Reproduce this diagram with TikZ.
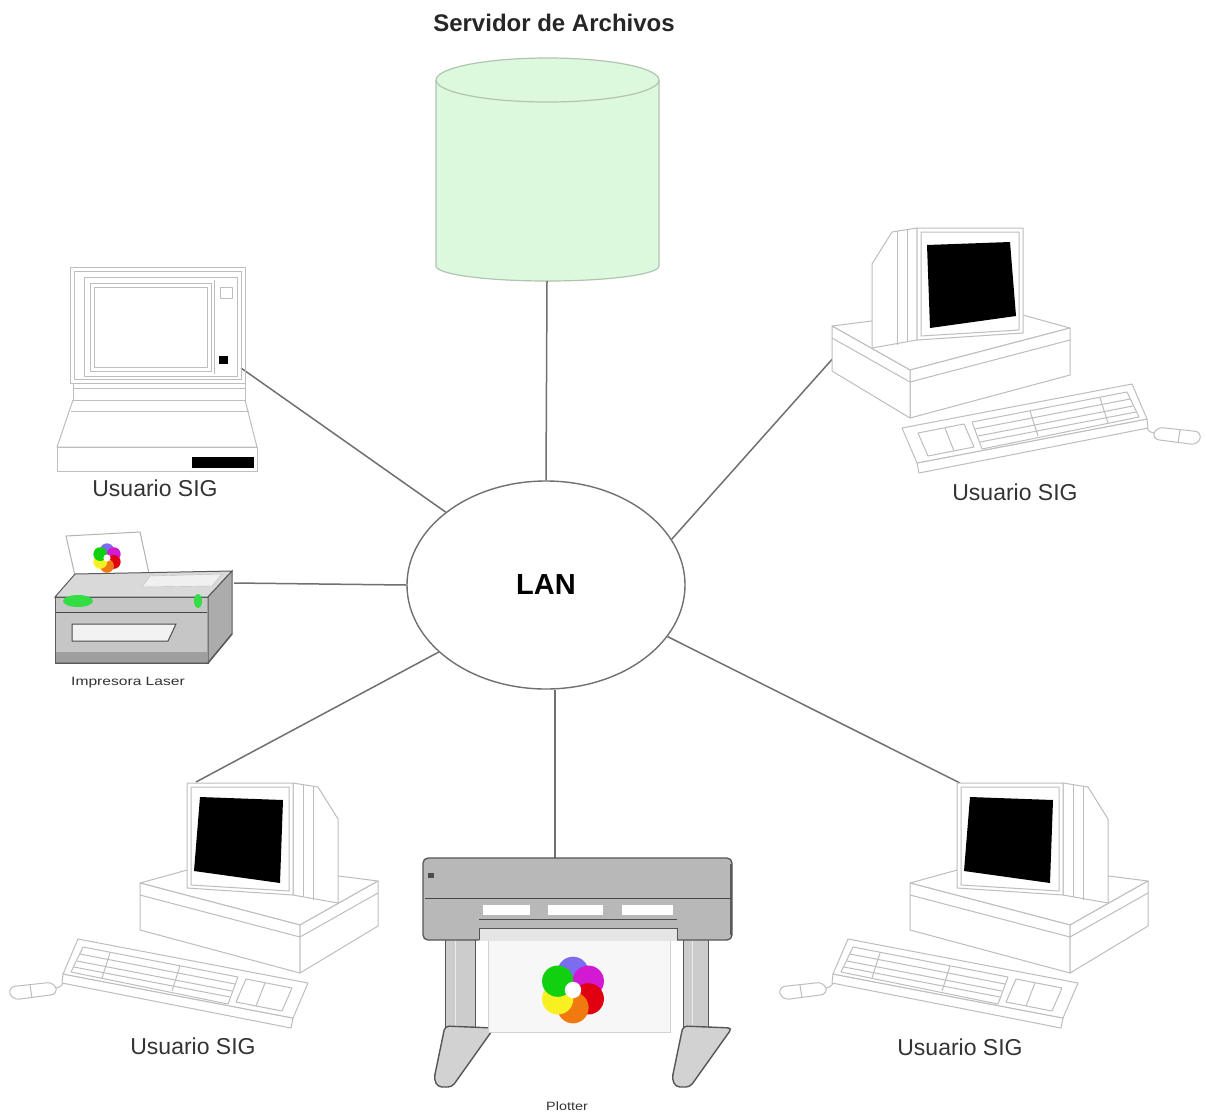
\documentclass[tikz,border=0pt]{standalone}
\usepackage{fontspec}
\setmainfont{Liberation Sans}
\usetikzlibrary{shapes.geometric}

\definecolor{linkgray}{HTML}{707070}
\definecolor{pcgray}{HTML}{BDBDBD}
\definecolor{srvfill}{HTML}{DDF9DD}
\definecolor{srvline}{HTML}{AFC5AF}
\definecolor{txtgray}{HTML}{333333}
\definecolor{plbody}{HTML}{B8B8B8}
\definecolor{pldark}{HTML}{555555}
\definecolor{wblue}{HTML}{7B6CF0}
\definecolor{wmag}{HTML}{D31AD3}
\definecolor{wred}{HTML}{E00010}
\definecolor{worange}{HTML}{F07A10}
\definecolor{wyellow}{HTML}{F8F020}
\definecolor{wgreen}{HTML}{10D010}
\definecolor{ledgreen}{HTML}{33DD44}

\tikzset{
  link/.style={draw=linkgray, line width=1.5pt},
  pcline/.style={draw=pcgray, line width=1pt, line join=round},
  lbl/.style={font=\fontsize{23}{23}\selectfont, text=txtgray, anchor=base, inner sep=0pt},
  smalllbl/.style={font=\fontsize{12}{12}\selectfont, text=txtgray, anchor=base, inner sep=0pt},
}

% colour wheel logo, unit radius about the origin
\newcommand{\colorwheel}{%
  \fill[wblue]   (0,-0.52) circle[radius=0.46];
  \fill[wmag]    (0.45,-0.26) circle[radius=0.46];
  \fill[wred]    (0.45,0.26) circle[radius=0.46];
  \fill[worange] (0,0.52) circle[radius=0.46];
  \fill[wyellow] (-0.45,0.26) circle[radius=0.46];
  \fill[wgreen]  (-0.45,-0.26) circle[radius=0.46];
  \fill[white]   (0,0) circle[radius=0.24];
}

% desktop computer: origin at the front-left top corner of the system unit
\newcommand{\drawpc}{%
  % mouse and cord
  \draw[pcline] (-84,105) .. controls (-72,103) and (-80,92) .. (-68,86);
  \filldraw[pcline, fill=white, rounded corners=7] (-132,104) -- (-86,99) -- (-82,111) -- (-128,117) -- cycle;
  \draw[pcline] (-110,102) -- (-108,115);
  % keyboard
  \filldraw[pcline, fill=white] (-77,91) -- (153,135) -- (151,145) -- (-78,100) -- cycle;
  \filldraw[pcline, fill=white] (-62,56) -- (168,100) -- (153,135) -- (-77,91) -- cycle;
  \draw[pcline] (-57,64) -- (98,94) -- (88,121) -- (-69,89) -- cycle;
  \draw[pcline] (106,96) -- (152,105) -- (142,128) -- (96,119) -- cycle;
  \draw[pcline] (-60,71) -- (95,101) (-63,78) -- (92,108) (-66,84) -- (90,114);
  \draw[pcline] (-30,70) -- (-38,95) (40,83) -- (32,108) (125,100) -- (116,123);
  % system unit
  \filldraw[pcline, fill=white] (0,0) -- (80,-22) -- (238,-2) -- (160,42) -- cycle;
  \filldraw[pcline, fill=white] (0,0) -- (160,42) -- (160,90) -- (0,47) -- cycle;
  \filldraw[pcline, fill=white] (160,42) -- (238,-2) -- (238,43) -- (160,90) -- cycle;
  \draw[pcline] (0,12) -- (160,54) -- (238,10);
  % monitor
  \filldraw[pcline, fill=white] (153,-100) -- (178,-96) -- (198,-64) -- (198,20) -- (153,12) -- cycle;
  \draw[pcline] (163,-98) -- (163,14) (173,-97) -- (173,17);
  \filldraw[pcline, fill=white] (47,-100) -- (153,-100) -- (153,12) -- (47,5) -- cycle;
  \draw[pcline] (51,-96) -- (149,-96) -- (149,8) -- (51,2) -- cycle;
  \fill[black] (60,-86) -- (143,-83) -- (140,0) -- (54,-12) -- cycle;
}

\begin{document}
\begin{tikzpicture}[x=1pt, y=-1pt]
  \fill[white] (0,0) rectangle (1206,1114);
  \useasboundingbox (0,0) rectangle (1206,1114);

  % ---------- file server ----------
  \node[font=\bfseries\fontsize{24}{24}\selectfont, anchor=base, text=black!85, inner sep=0pt]
    (title) at (554,31) {Servidor de Archivos};
  \filldraw[fill=srvfill, draw=srvline, line width=1.2pt]
    (436,80) -- (436,266) arc[start angle=180, end angle=0, x radius=111.5, y radius=15] -- (659,80);
  \filldraw[fill=srvfill, draw=srvline, line width=1.2pt] (547.5,80) ellipse[x radius=111.5, y radius=22];
  \coordinate (srv) at (547,281);

  % ---------- LAN ----------
  \node[ellipse, draw=linkgray, line width=1.4pt, fill=white, minimum width=278pt, minimum height=208pt,
        inner sep=0pt, font=\bfseries\fontsize{29}{29}\selectfont] (lan) at (546,585) {LAN};

  % ---------- attachment points ----------
  \coordinate (nb) at (241,368);
  \coordinate (lp) at (234,583);
  \coordinate (pcne) at (835,356);
  \coordinate (pcsw) at (196,782);
  \coordinate (pcse) at (960,783);
  \coordinate (pl) at (555,859);

  % ---------- connectors ----------
  \draw[link] (srv) -- (lan.90);
  \draw[link] (nb) -- (lan.144);
  \draw[link] (lp) -- (lan.180);
  \draw[link] (pcne) -- (lan.20);
  \draw[link] (pcsw) -- (lan.212);
  \draw[link] (pcse) -- (lan.337);
  \draw[link] (pl) -- (pl |- lan.south);

  % ---------- notebook ----------
  \begin{scope}[pcline]
    \draw (70,267) rectangle (245,383);
    \draw (74,271) rectangle (241,379);
    \draw (84,277) rectangle (237,376);
    \draw (90,283) rectangle (211,371);
    \draw (94,287) rectangle (207,367);
    \draw (214,280) -- (214,374);
    \draw (220,287) rectangle (232,298);
    \draw (73,388) -- (245,388);
    \draw (73,383) -- (73,400) -- (245,400) -- (245,383);
    \draw (73,400) -- (57,447) -- (257,447) -- (245,400);
    \draw (71,411) -- (249,411);
    \draw (57,447) rectangle (257,471);
  \end{scope}
  \fill[black] (219,356) rectangle (228,364);
  \fill[black] (192,457) rectangle (254,468);
  \node[lbl] (lbnb) at (155,496) {Usuario SIG};

  % ---------- laser printer ----------
  \filldraw[fill=white, draw=gray!60, line width=1pt] (66,536) -- (140,532) -- (150,578) -- (76,580) -- cycle;
  \begin{scope}[shift={(107,558)}, scale=15]
    \colorwheel
  \end{scope}
  \filldraw[fill=gray!30, draw=gray!70!black, line width=1pt] (75,574) -- (232,571) -- (208,597) -- (55,597) -- cycle;
  \filldraw[fill=gray!12, draw=gray!50] (150,576) -- (222,574) -- (212,586) -- (142,587) -- cycle;
  \filldraw[fill=gray!45, draw=gray!70!black, line width=1pt] (55,597) -- (208,597) -- (208,663) -- (55,663) -- cycle;
  \filldraw[fill=gray!65, draw=gray!70!black, line width=1pt] (208,597) -- (232,571) -- (232,634) -- (208,663) -- cycle;
  \fill[gray!75] (56,652) rectangle (207,662);
  \draw[gray!70!black, line width=1.5pt] (55,663) -- (208,663) -- (232,634);
  \fill[ledgreen] (78,601) ellipse[x radius=15, y radius=6];
  \fill[ledgreen] (198,601) ellipse[x radius=4, y radius=7];
  \draw[gray!55!black] (56,612) -- (207,612);
  \filldraw[fill=gray!10, draw=gray!60!black, line width=1pt] (72,624) -- (176,624) -- (168,641) -- (72,641) -- cycle;
  \node[smalllbl] (lblp) at (128,685) {\scalebox{1.3}[1]{Impresora Laser}};

  % ---------- desktop computers ----------
  \begin{scope}[shift={(1070,328)}, xscale=-1]
    \drawpc
  \end{scope}
  \node[lbl] (lbne) at (1015,500) {Usuario SIG};

  \begin{scope}[shift={(140,883)}]
    \drawpc
  \end{scope}
  \node[lbl] (lbsw) at (193,1054) {Usuario SIG};

  \begin{scope}[shift={(910,883)}]
    \drawpc
  \end{scope}
  \node[lbl] (lbse) at (960,1055) {Usuario SIG};

  % ---------- plotter ----------
  \begin{scope}[line width=1pt]
    \filldraw[fill=gray!40, draw=pldark] (445,935) rectangle (475,1034);
    \draw[gray!15] (455,940) -- (455,1030);
    \filldraw[fill=gray!35, draw=pldark, line width=1.4pt, rounded corners=4]
      (445,1026) -- (494,1028) -- (452,1087) -- (438,1087) -- (434,1079) -- cycle;
    \filldraw[fill=gray!40, draw=pldark] (683,935) rectangle (708,1034);
    \draw[gray!15] (692,940) -- (692,1030);
    \filldraw[fill=gray!35, draw=pldark, line width=1.4pt, rounded corners=4]
      (683,1026) -- (732,1028) -- (690,1087) -- (676,1087) -- (672,1079) -- cycle;
    \filldraw[fill=gray!6, draw=gray!35] (488,935) rectangle (670,1032);
  \end{scope}
  \begin{scope}[shift={(573,990)}, scale=34]
    \colorwheel
  \end{scope}
  \filldraw[fill=plbody, draw=pldark, line width=1.3pt, rounded corners=5] (423,858) rectangle (732,940);
  \fill[gray!20] (479,928) rectangle (677,941);
  \draw[pldark, line width=1pt] (479,940) -- (479,928) -- (677,928) -- (677,940);
  \draw[gray!55!black, line width=0.8pt] (425,898) -- (730,898);
  \fill[white] (483,905) rectangle (530,915);
  \fill[white] (548,905) rectangle (603,915);
  \fill[white] (622,905) rectangle (673,915);
  \draw[gray!60!black] (479,919) -- (677,919);
  \draw[black!65, line width=2.2pt] (731,864) -- (731,935);
  \fill[gray!60!black] (428,873) rectangle (434,878);
  \node[smalllbl] (lbpl) at (567,1110) {\scalebox{1.2}[1]{Plotter}};
\end{tikzpicture}
\end{document}
